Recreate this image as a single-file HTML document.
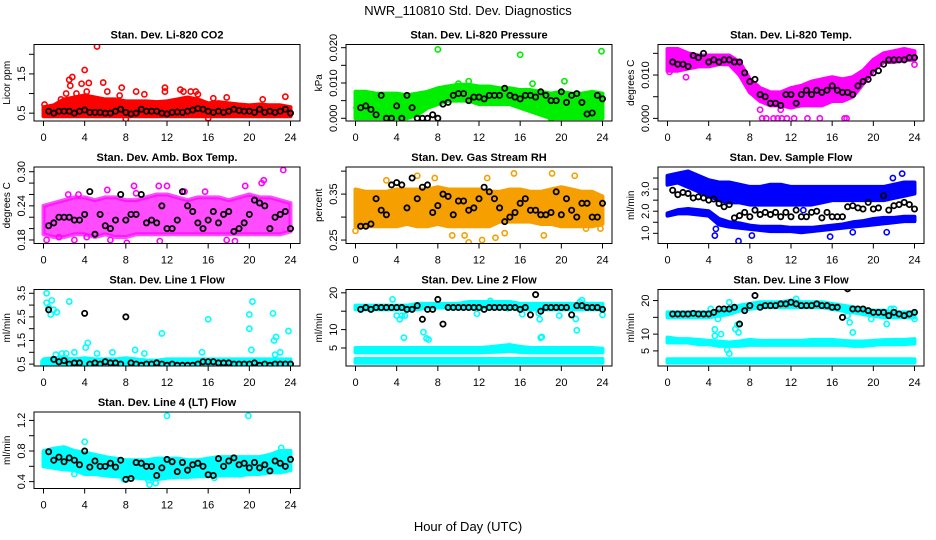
<!DOCTYPE html>
<html><head><meta charset="utf-8">
<style>
html,body{margin:0;padding:0;background:#fff;}
svg{display:block;font-family:"Liberation Sans",Arial,sans-serif;}
</style></head>
<body>
<svg id="chart" width="936" height="540" viewBox="0 0 936 540" xmlns="http://www.w3.org/2000/svg">
<rect width="936" height="540" fill="#fff"/>
<text x="468" y="15" font-size="13" text-anchor="middle">NWR_110810  Std. Dev. Diagnostics</text>
<text x="468" y="531" font-size="13" text-anchor="middle">Hour of Day (UTC)</text>
</svg>
<script>
const bandHours=[0,1,2,3,4,5,6,7,8,9,10,11,12,13,14,15,16,17,18,19,20,21,22,23,24];
const blkHours=[0.5,1,1.5,2,2.5,3,3.5,4,4.5,5,5.5,6,6.5,7,7.5,8,8.5,9,9.5,10,10.5,11,11.5,12,12.5,13,13.5,14,14.5,15,15.5,16,16.5,17,17.5,18,18.5,19,19.5,20,20.5,21,21.5,22,22.5,23,23.5,24];
const xTicks=[0,4,8,12,16,20,24];

// Panel 1 CO2
const p1Lo=[0.42,0.42,0.42,0.42,0.42,0.42,0.42,0.42,0.42,0.42,0.42,0.42,0.42,0.42,0.42,0.42,0.42,0.42,0.42,0.42,0.42,0.42,0.42,0.42,0.42];
const p1Hi=[0.65,0.7,0.85,0.9,0.95,0.9,0.85,0.85,0.8,0.8,0.8,0.78,0.8,0.85,0.9,0.85,0.75,0.78,0.75,0.72,0.7,0.72,0.7,0.7,0.65];
const p1OutX=[0.1,1.7,2.2,2.5,2.8,2.6,3.2,3.7,4,4.2,4.4,5.2,5.8,6.2,7.4,7.6,9,9.8,11.8,11.8,13.3,13.6,14.3,14.8,15,16.5,17.8,21.3,23.5,8,16];
const p1OutY=[0.72,0.85,1.0,1.35,1.42,1.2,1.0,1.25,1.6,1.05,1.27,2.2,1.28,1.05,0.95,1.15,1.05,0.98,1.15,1.05,1.1,1.05,1.05,1.05,0.98,0.88,0.9,0.85,0.92,0.35,0.37];
const p1Blk=[0.55,0.5,0.55,0.55,0.55,0.5,0.55,0.58,0.52,0.52,0.52,0.5,0.5,0.55,0.6,0.52,0.48,0.5,0.6,0.55,0.55,0.55,0.5,0.48,0.52,0.53,0.52,0.55,0.58,0.62,0.6,0.55,0.52,0.55,0.52,0.55,0.6,0.57,0.55,0.55,0.52,0.6,0.52,0.55,0.52,0.55,0.6,0.5];
// Panel 2 pressure
const p2Lo=[0,0,0,0,0,0,0.001,0.003,0.004,0.005,0.005,0.005,0.004,0.004,0.004,0.004,0.003,0.002,0.001,0,0,0,0,0,0];
const p2Hi=[0.0075,0.0075,0.007,0.007,0.007,0.0065,0.007,0.0075,0.0085,0.009,0.0095,0.0095,0.009,0.009,0.0085,0.0085,0.008,0.008,0.0075,0.007,0.0075,0.007,0.007,0.0075,0.007];
const p2OutX=[8,16,23.9,20.3,17.2,11,19,10,0.1,0.3];
const p2OutY=[0.0195,0.018,0.019,0.0105,0.0098,0.0105,0,0.0098,0.003,0.001];
const p2Blk=[0.003,0.0035,0.0025,0.001,0.0065,0,0,0.0035,0,0.0065,0.003,0,0,0,0.001,0,0.004,0.0045,0.0065,0.007,0.007,0.005,0.006,0.006,0.0055,0.0065,0.0065,0.0065,0.0085,0.0065,0.006,0.0055,0.0065,0.0065,0.006,0.0075,0.0065,0.005,0.005,0.0075,0.0045,0.0065,0.007,0.0045,0.0012,0.0015,0.0065,0.0055];
// Panel 3 temp
const p3Lo=[0.011,0.011,0.0115,0.012,0.012,0.0125,0.0125,0.01,0.006,0.004,0.003,0.003,0.0025,0.003,0.003,0.003,0.004,0.004,0.005,0.008,0.011,0.013,0.013,0.0135,0.0135];
const p3Hi=[0.016,0.016,0.015,0.0145,0.0145,0.0145,0.0145,0.013,0.009,0.007,0.006,0.006,0.007,0.0075,0.0085,0.009,0.0095,0.009,0.0095,0.011,0.0135,0.015,0.0155,0.016,0.0155];
const p3OutX=[9.2,9.6,10.3,10.7,11.1,11.6,12.3,13.6,14.8,17.2,17.4,0.2,1.8,24,9,11];
const p3OutY=[0,0,0,0,0,0,0,0,0,0,0,0.0107,0.0095,0.0124,0.002,0.002];
const p3Blk=[0.013,0.0125,0.0125,0.012,0.0145,0.014,0.015,0.013,0.0135,0.013,0.0135,0.0135,0.013,0.013,0.0105,0.0085,0.009,0.0055,0.005,0.0035,0.0035,0.003,0.0055,0.0055,0.0035,0.0055,0.0065,0.0055,0.0065,0.006,0.0065,0.0075,0.0065,0.006,0.006,0.0055,0.0075,0.0085,0.009,0.0105,0.011,0.0125,0.0135,0.0135,0.0135,0.0135,0.014,0.014];
// Panel 4 amb box
const p4Lo=[0.19,0.185,0.185,0.19,0.19,0.185,0.19,0.185,0.185,0.19,0.19,0.19,0.19,0.19,0.19,0.19,0.19,0.19,0.19,0.19,0.19,0.19,0.19,0.19,0.195];
const p4Hi=[0.24,0.245,0.25,0.255,0.255,0.25,0.255,0.255,0.25,0.25,0.255,0.26,0.26,0.255,0.25,0.255,0.255,0.255,0.25,0.255,0.26,0.255,0.255,0.25,0.245];
const p4OutX=[0.3,1.5,3,4.2,6.5,8.1,8.8,11.2,12,13.7,17.8,18.6,11.3,21.4,21.2,23.3,19.6,15.7,6.2,3.4,2.4,9];
const p4OutY=[0.18,0.185,0.18,0.185,0.18,0.175,0.275,0.275,0.275,0.265,0.18,0.178,0.178,0.285,0.28,0.303,0.275,0.265,0.268,0.26,0.26,0.262];
const p4Blk=[0.205,0.21,0.22,0.22,0.22,0.215,0.215,0.225,0.265,0.19,0.225,0.205,0.2,0.215,0.26,0.215,0.225,0.225,0.26,0.21,0.215,0.21,0.24,0.2,0.2,0.215,0.265,0.24,0.23,0.21,0.2,0.215,0.23,0.21,0.225,0.23,0.195,0.2,0.21,0.225,0.25,0.245,0.24,0.2,0.22,0.225,0.23,0.2];
// Panel 5 RH
const p5Lo=[0.28,0.28,0.28,0.28,0.28,0.285,0.28,0.28,0.285,0.28,0.28,0.28,0.28,0.28,0.29,0.29,0.29,0.29,0.285,0.285,0.28,0.28,0.28,0.28,0.285];
const p5Hi=[0.36,0.355,0.355,0.355,0.36,0.36,0.36,0.36,0.365,0.36,0.36,0.36,0.36,0.355,0.355,0.36,0.36,0.355,0.355,0.36,0.365,0.36,0.355,0.355,0.345];
const p5OutX=[0,6,7.7,9.4,10.6,11,12.3,13.6,14.5,15.4,18.3,19.1,21.3,22.4,23.8,3,12.8];
const p5OutY=[0.27,0.39,0.385,0.26,0.26,0.245,0.25,0.255,0.265,0.395,0.26,0.395,0.39,0.275,0.275,0.38,0.385];
const p5Blk=[0.28,0.28,0.285,0.34,0.315,0.305,0.37,0.375,0.37,0.32,0.385,0.34,0.365,0.37,0.31,0.325,0.35,0.345,0.305,0.335,0.335,0.315,0.32,0.34,0.365,0.355,0.34,0.32,0.29,0.3,0.31,0.33,0.34,0.315,0.315,0.305,0.305,0.31,0.355,0.305,0.34,0.315,0.3,0.33,0.33,0.3,0.3,0.33];
// Panel 6 sample flow
const p6UpLo=[3.2,3.3,3.1,2.9,2.7,2.5,2.4,2.4,2.3,2.3,2.3,2.3,2.3,2.3,2.3,2.4,2.5,2.5,2.5,2.5,2.5,2.5,2.6,2.7,2.8];
const p6UpHi=[3.6,3.7,3.8,3.6,3.4,3.3,3.3,3.2,3.1,3.1,3.2,3.2,3.1,3.1,3.1,3.1,3.1,3.1,3.1,3.1,3.1,3.1,3.2,3.3,3.3];
const p6LoLo=[1.8,1.9,1.9,1.85,1.8,1.4,1.3,1.25,1.2,1.15,1.1,1.1,1.1,1.05,1.1,1.15,1.2,1.25,1.3,1.35,1.4,1.45,1.5,1.55,1.55];
const p6LoHi=[1.9,2.05,2.1,2.05,2.0,1.65,1.5,1.45,1.35,1.3,1.3,1.3,1.25,1.25,1.25,1.3,1.35,1.4,1.5,1.55,1.65,1.7,1.7,1.75,1.75];
const p6OutX=[4.6,6.9,8.2,15.8,21.3,22.8,21.9,18,4.7,13.2];
const p6OutY=[0.9,0.65,0.9,0.85,1.05,3.7,3.5,1.05,1.2,2.05];
const p6Blk=[2.95,2.75,2.85,2.8,2.6,2.65,2.6,2.5,2.55,2.35,2.2,2.3,1.7,1.8,1.95,1.75,2.05,1.85,1.95,1.85,1.95,1.75,1.95,1.75,2.05,1.75,1.75,1.95,2.0,1.7,1.95,1.75,1.75,1.75,2.2,2.25,2.15,2.1,2.4,2.1,2.15,2.7,2.05,2.25,2.3,2.4,2.3,2.1];
// Panel 7 line1
const p7Lo=[0.4,0.4,0.4,0.4,0.4,0.4,0.4,0.4,0.4,0.4,0.4,0.4,0.4,0.4,0.4,0.4,0.4,0.4,0.4,0.4,0.4,0.4,0.4,0.4,0.4];
const p7Hi=[0.7,0.75,0.75,0.7,0.75,0.7,0.7,0.7,0.75,0.7,0.65,0.65,0.7,0.7,0.7,0.7,0.7,0.7,0.7,0.7,0.7,0.7,0.7,0.7,0.7];
const p7OutX=[0.3,0.3,0.5,0.7,0.8,1,1.3,2.5,1.2,1.8,2.2,3,4.1,4.3,5.2,6.7,8.9,9.8,11.5,15.4,16,20,20,20.3,20.2,22.3,22.4,22.6,22.5,23,23.8,0,0];
const p7OutY=[3.5,3.1,2.9,2.6,3.2,2.8,2.7,3.15,0.9,0.95,0.95,1.0,1.2,1.4,0.95,1.0,1.1,0.95,1.8,1.0,2.4,2.6,2.0,3.15,1.1,2.65,1.5,1.65,0.9,1.0,1.9,0.6,0.5];
const p7Blk=[2.8,0.7,0.6,0.65,0.5,0.55,0.55,2.65,0.5,0.55,0.5,0.6,0.55,0.55,0.5,2.5,0.55,0.5,0.45,0.5,0.5,0.55,0.5,0.45,0.5,0.45,0.45,0.45,0.45,0.5,0.6,0.6,0.6,0.55,0.55,0.55,0.5,0.5,0.5,0.5,0.55,0.45,0.5,0.45,0.5,0.5,0.5,0.5];
// Panel 8 line2
const p8TopLo=[15.5,15.5,15.5,15.5,15.5,15.5,15.5,16,16,16,16,16,16,16,16,16,15.5,15.5,15.5,15.5,15.5,15.5,15.5,15.5,15.5];
const p8TopHi=[16.5,16.5,16.5,16.5,16.5,16.5,17,17,17,17,17,17.5,17.5,17.5,17.5,17.5,17,17,17,17,17,17,17,17,17];
const p8MidLo=[3.8,3.8,3.8,3.8,3.8,3.8,3.8,3.8,3.8,3.8,3.8,3.8,3.8,3.9,4,4.2,3.9,3.8,3.8,3.8,3.8,3.8,3.8,3.8,3.8];
const p8MidHi=[5,5,5,5,5,5,5,5,5,5,5,5,5,5.2,5.5,5.8,5.3,5,5,5,5,5,5,5,4.8];
const p8BotLo=[1,1,1,1,1,1,1,1,1,1,1,1,1,1,1,1,1,1,1,1,1,1,1,1,1];
const p8BotHi=[2,2,2,2,2,2,2,2,2,2,2,2,2,2,2,2,2,2,2,2,2,2,2,2,2];
const p8OutX=[3.6,4,4.3,4.5,4.7,4.8,6.6,6.9,7.1,11.8,14.8,16.2,17.8,17.9,18,18.1,19.8,21.4,21.5,21.8,22,24,13.1];
const p8OutY=[18.2,13.8,12.8,13.8,7.8,13.8,9.3,7.6,7.3,14.3,15.8,14.2,14.5,12.8,7.8,8.0,13.8,12.9,9.8,17.5,18,14,17.8];
const p8Blk=[15.5,16,15.5,16,16,16,16,16,16,15.5,15.5,16.5,12.8,15.5,15.5,18.2,11.5,16,16,16,16,16,16,16,15.5,16,16,16,16,16,16,15.5,16,14,19.5,15,16,16,16,16,16,14,16.5,16.5,16,16,16,15.5];
// Panel 9 line3
const p9TopLo=[15,15,15,15,15,15.5,16,17,17.5,18,18,18,18,18,18,18,17.5,17,16.5,16,15.5,15,15,15,15];
const p9TopHi=[16.5,16.5,16.5,16.5,16.5,17,17.5,18.5,19,19.5,19.5,19.5,20,19.5,19.5,19.5,19,18.5,18,17.5,17,17,16.5,16.5,16.5];
const p9MidLo=[7.5,7.5,7.5,7,7,6.5,6.5,6.5,6.8,6.8,6.8,6.8,6.8,6.8,6.8,6.8,6.8,6.8,6.5,6.5,6.8,7,7,7,7.2];
const p9MidHi=[9,8.5,8.5,8.3,8,7.8,7.5,7.8,8.3,8,8,8,8,8,8.3,8.3,8.3,8,7.8,7.8,8,8.2,8.3,8.3,8.5];
const p9BotLo=[1.5,1.5,1.5,1.5,1.5,1.5,1.5,1.5,1.5,1.5,1.5,1.5,1.5,1.5,1.5,1.5,1.5,1.5,1.5,1.5,1.5,1.5,1.5,1.5,1.5];
const p9BotHi=[2.5,2.5,2.5,2.5,2.5,2.5,2.5,2.5,2.5,2.5,2.5,2.5,2.5,2.5,2.5,2.5,2.5,2.5,2.5,2.5,2.5,2.5,2.5,2.5,2.5];
const p9OutX=[4,4.6,4.6,4.9,5.2,5.8,6,6,6.6,6.9,12.5,17.5,17.7,18,19.8,21.3,21.7,22,24,4.2,6.8];
const p9OutY=[15.5,11.4,9.5,14.5,10,5.3,4.2,19.5,11.5,10.5,20.5,15.5,13.5,10.5,14.5,13,17.5,17.5,14.5,17.5,12.8];
const p9Blk=[16,16,16,16,16.2,16,16,16,16.5,17.5,17.5,17.5,18,13,17,18.5,21.5,18,18.5,18.5,18.5,19,19,19.5,19,18.5,18.5,18.5,19,18.5,18.5,18,18,15,23.5,17.5,17.5,17.5,17,16.5,16.5,16.5,15.5,16.5,16,15.5,16,16.5];
// Panel 10 line4
const p10Lo=[0.6,0.58,0.56,0.55,0.5,0.5,0.48,0.47,0.46,0.45,0.44,0.43,0.45,0.46,0.46,0.47,0.47,0.48,0.48,0.48,0.5,0.5,0.52,0.52,0.55];
const p10Hi=[0.8,0.83,0.85,0.8,0.78,0.75,0.72,0.7,0.68,0.68,0.68,0.7,0.7,0.7,0.68,0.68,0.7,0.72,0.72,0.72,0.72,0.72,0.75,0.8,0.8];
const p10OutX=[4,12,19.9,3,10.3,10.9,10.2,7.8,23.1,16.6];
const p10OutY=[0.92,1.26,1.26,0.5,0.36,0.38,0.42,0.43,0.84,0.45];
const p10Blk=[0.79,0.68,0.72,0.66,0.71,0.68,0.62,0.8,0.59,0.67,0.6,0.6,0.64,0.59,0.68,0.43,0.44,0.65,0.64,0.6,0.6,0.48,0.58,0.69,0.66,0.53,0.65,0.55,0.62,0.64,0.6,0.49,0.48,0.7,0.6,0.67,0.71,0.62,0.64,0.58,0.65,0.58,0.62,0.54,0.67,0.64,0.6,0.69];

const panels=[
 {id:'co2',title:'Stan. Dev. Li-820 CO2',ylab:'Licor ppm',r:0,c:0,ymin:0.30,ymax:2.25,ticks:[0.5,1,1.5,2],labels:['0.5','','1.5',''],color:'#ff0000',op:1,bands:[[p1Lo,p1Hi]],ox:p1OutX,oy:p1OutY,blk:p1Blk},
 {id:'pressure',title:'Stan. Dev. Li-820 Pressure',ylab:'kPa',r:0,c:1,ymin:-0.00077,ymax:0.0209,ticks:[0,0.005,0.01,0.015,0.02],labels:['0.000','','0.010','','0.020'],color:'#00ee00',op:1,bands:[[p2Lo,p2Hi]],ox:p2OutX,oy:p2OutY,blk:p2Blk},
 {id:'temp',title:'Stan. Dev. Li-820 Temp.',ylab:'degrees C',r:0,c:2,ymin:-0.0006,ymax:0.01704,ticks:[0,0.005,0.01,0.015],labels:['0.000','','0.010',''],color:'#ff00ff',op:1,bands:[[p3Lo,p3Hi]],ox:p3OutX,oy:p3OutY,blk:p3Blk},
 {id:'ambbox',title:'Stan. Dev. Amb. Box Temp.',ylab:'degrees C',r:1,c:0,ymin:0.1738,ymax:0.3083,ticks:[0.18,0.2,0.22,0.24,0.26,0.28,0.3],labels:['0.18','','','0.24','','','0.30'],color:'#ff00ff',op:0.7,bands:[[p4Lo,p4Hi]],ox:p4OutX,oy:p4OutY,blk:p4Blk},
 {id:'rh',title:'Stan. Dev. Gas Stream RH',ylab:'percent',r:1,c:1,ymin:0.2425,ymax:0.409,ticks:[0.25,0.3,0.35,0.4],labels:['0.25','','0.35',''],color:'#f5a000',op:1,bands:[[p5Lo,p5Hi]],ox:p5OutX,oy:p5OutY,blk:p5Blk},
 {id:'sampleflow',title:'Stan. Dev. Sample Flow',ylab:'ml/min',r:1,c:2,ymin:0.54,ymax:4.0,ticks:[1,1.5,2,2.5,3,3.5],labels:['1.0','','2.0','','3.0',''],color:'#0000ff',op:1,bands:[[p6UpLo,p6UpHi],[p6LoLo,p6LoHi]],ox:p6OutX,oy:p6OutY,blk:p6Blk},
 {id:'line1',title:'Stan. Dev. Line 1 Flow',ylab:'ml/min',r:2,c:0,ymin:0.42,ymax:3.66,ticks:[0.5,1,1.5,2,2.5,3,3.5],labels:['0.5','','1.5','','2.5','','3.5'],color:'#00ffff',op:1,bands:[[p7Lo,p7Hi]],ox:p7OutX,oy:p7OutY,blk:p7Blk},
 {id:'line2',title:'Stan. Dev. Line 2 Flow',ylab:'ml/min',r:2,c:1,ymin:0.1,ymax:20.9,ticks:[0,5,10,15,20],labels:['','5','10','','20'],color:'#00ffff',op:1,bands:[[p8TopLo,p8TopHi],[p8MidLo,p8MidHi],[p8BotLo,p8BotHi]],ox:p8OutX,oy:p8OutY,blk:p8Blk},
 {id:'line3',title:'Stan. Dev. Line 3 Flow',ylab:'ml/min',r:2,c:2,ymin:0.5,ymax:23.3,ticks:[0,5,10,15,20],labels:['','5','10','','20'],color:'#00ffff',op:1,bands:[[p9TopLo,p9TopHi],[p9MidLo,p9MidHi],[p9BotLo,p9BotHi]],ox:p9OutX,oy:p9OutY,blk:p9Blk},
 {id:'line4',title:'Stan. Dev. Line 4 (LT) Flow',ylab:'ml/min',r:3,c:0,ymin:0.31,ymax:1.31,ticks:[0.4,0.6,0.8,1,1.2],labels:['0.4','','0.8','','1.2'],color:'#00ffff',op:1,bands:[[p10Lo,p10Hi]],ox:p10OutX,oy:p10OutY,blk:p10Blk}
];

const NS='http://www.w3.org/2000/svg';
const svg=document.getElementById('chart');
function mk(tag,attrs,parent){const e=document.createElementNS(NS,tag);for(const k in attrs)e.setAttribute(k,attrs[k]);parent.appendChild(e);return e;}

panels.forEach(p=>{
  const L=34+312*p.c, T=44.5+122.5*p.r, W=266, H=76.5, B=T+H;
  const xs=h=>L+9.5+h*(247/24);
  const ys=v=>B-(v-p.ymin)/(p.ymax-p.ymin)*H;
  const g=mk('g',{},svg);
  
  
  const clip=mk('clipPath',{id:'clip-'+p.id},g);
  mk('rect',{x:L,y:T,width:W,height:H},clip);
  const plot=mk('g',{'clip-path':'url(#clip-'+p.id+')'},g);
  p.bands.forEach((b,bi)=>{
    let pts=[];
    bandHours.forEach((h,i)=>pts.push(xs(h)+','+ys(b[1][i])));
    for(let i=bandHours.length-1;i>=0;i--)pts.push(xs(bandHours[i])+','+ys(b[0][i]));
    const poly=mk('polygon',{points:pts.join(' '),fill:p.color,stroke:p.color,'stroke-width':4,'stroke-linejoin':'round','fill-opacity':p.op,'stroke-opacity':p.op},plot);
    
    
  });
  p.ox.forEach((x,i)=>{
    const c=mk('circle',{cx:xs(x),cy:ys(p.oy[i]),r:2.6,fill:'none',stroke:p.color,'stroke-width':1.6},plot);
    
    
  });
  blkHours.forEach((h,i)=>{
    const c=mk('circle',{cx:xs(h),cy:ys(p.blk[i]),r:2.6,fill:'none',stroke:'#000','stroke-width':1.8},plot);
    
    
  });
  const box=mk('rect',{x:L,y:T,width:W,height:H,fill:'none',stroke:'#000','stroke-width':1},g);
  
  
  const t=mk('text',{x:L+W/2,y:T-6,'font-size':11,'font-weight':'bold','text-anchor':'middle'},g);
  t.textContent=p.title;
  
  
  // x axis
  mk('line',{x1:xs(0),x2:xs(24),y1:B,y2:B,stroke:'#000'},g);
  xTicks.forEach(v=>{
    mk('line',{x1:xs(v),x2:xs(v),y1:B,y2:B+5,stroke:'#000'},g);
    const tl=mk('text',{x:xs(v),y:B+20,'font-size':11,'text-anchor':'middle'},g);
    tl.textContent=v;
    
    
  });
  // y axis
  const tk=p.ticks.filter(v=>v>=p.ymin&&v<=p.ymax);
  mk('line',{x1:L,x2:L,y1:ys(tk[0]),y2:ys(tk[tk.length-1]),stroke:'#000'},g);
  p.ticks.forEach((v,i)=>{
    if(v<p.ymin-1e-9||v>p.ymax)return;
    mk('line',{x1:L-5,x2:L,y1:ys(v),y2:ys(v),stroke:'#000'},g);
    if(p.labels[i]){
      const yl=mk('text',{x:0,y:0,'font-size':11,'text-anchor':'middle',transform:'translate('+(L-9)+','+ys(v)+') rotate(-90)'},g);
      yl.textContent=p.labels[i];
      
      
    }
  });
  const yt=mk('text',{x:0,y:0,'font-size':10,'text-anchor':'middle',transform:'translate('+(L-24)+','+(T+H/2)+') rotate(-90)'},g);
  yt.textContent=p.ylab;
  
  
});
</script>
</body></html>
